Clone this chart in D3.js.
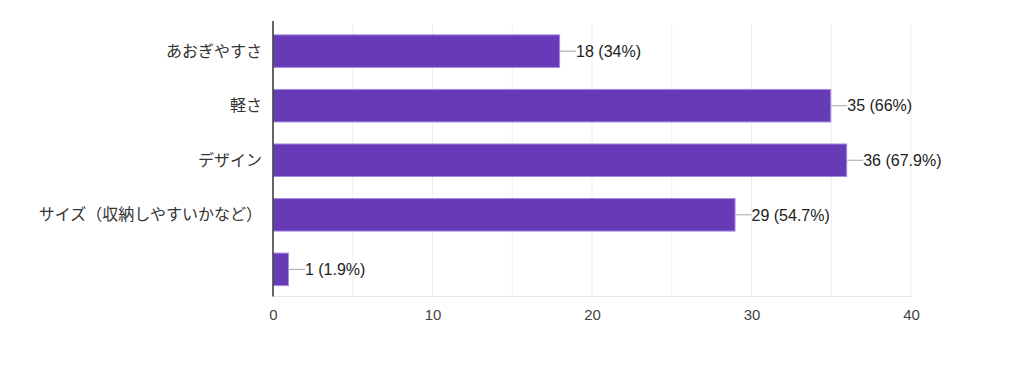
<!DOCTYPE html>
<html><head><meta charset="utf-8">
<script src="https://cdn.jsdelivr.net/npm/d3@7/dist/d3.min.js"></script>
<style>
html,body{margin:0;padding:0;background:#fff;}
svg{display:block;font-family:"Liberation Sans",Arial,"Noto Sans CJK JP",sans-serif;}
</style></head><body>
<svg id="c" width="1024" height="365"></svg>
<script>
const categories = ["あおぎやすさ","軽さ","デザイン","サイズ（収納しやすいかなど）",""];
const values = [18,35,36,29,1];
const percents = ["34%","66%","67.9%","54.7%","1.9%"];
const xTicks = [0,10,20,30,40];
const gridTicks = [5,10,15,20,25,30,35,40];

(function(){
const svg = d3.select("#c");
const mLeft = 273, mRight = 911, mTop = 24, mBottom = 296.5;
const x = d3.scaleLinear().domain([0,40]).range([mLeft,mRight]);
const y = d3.scaleBand().domain(d3.range(categories.length)).range([mTop,mBottom]).paddingInner(0.385).paddingOuter(0.19);

// grid
svg.append("g").selectAll("line").data(gridTicks).join("line")
  .attr("x1",d=>x(d)).attr("x2",d=>x(d)).attr("y1",mTop).attr("y2",mBottom)
  .attr("stroke","#eeeeee").attr("stroke-width",1);
svg.append("line").attr("x1",mLeft).attr("x2",mRight).attr("y1",mBottom).attr("y2",mBottom)
  .attr("stroke","#e6e6e6").attr("stroke-width",1);

// bars
svg.append("g").selectAll("rect").data(values).join("rect")
  .attr("x",x(0)+0.5).attr("y",(d,i)=>y(i)+0.5)
  .attr("width",d=>x(d)-x(0)-1).attr("height",y.bandwidth()-1)
  .attr("fill","#673ab7").attr("stroke","#a58be0").attr("stroke-width",1);

// connectors & labels
const lab = svg.append("g");
values.forEach((v,i)=>{
  const cy = y(i)+y.bandwidth()/2;
  lab.append("line").attr("x1",x(v)).attr("x2",x(v)+16).attr("y1",cy).attr("y2",cy)
    .attr("stroke","#a6a6a6").attr("stroke-width",1);
  lab.append("text").attr("x",x(v)+16).attr("y",cy).attr("dy","0.36em")
    .attr("font-size",16).attr("fill","#222").text(`${v} (${percents[i]})`);
});

// axis line
svg.append("line").attr("x1",mLeft).attr("x2",mLeft).attr("y1",mTop-3).attr("y2",mBottom)
  .attr("stroke","#333").attr("stroke-width",1.5);

// category labels
svg.append("g").selectAll("text").data(categories).join("text")
  .attr("x",262).attr("y",(d,i)=>y(i)+y.bandwidth()/2).attr("dy","0.35em")
  .attr("text-anchor","end").attr("font-size",16).attr("fill","#333")
  .attr("font-family","'Noto Sans CJK JP',sans-serif").text(d=>d);

// x tick labels
const xa = d3.axisBottom(x).tickValues(xTicks).tickSize(0).tickPadding(13);
const g = svg.append("g").attr("transform",`translate(0,${mBottom})`).call(xa);
g.select(".domain").remove();
g.selectAll("text").attr("font-size",15).attr("fill","#444").attr("font-family","'Liberation Sans',Arial,sans-serif");
})();
</script>
</body></html>
